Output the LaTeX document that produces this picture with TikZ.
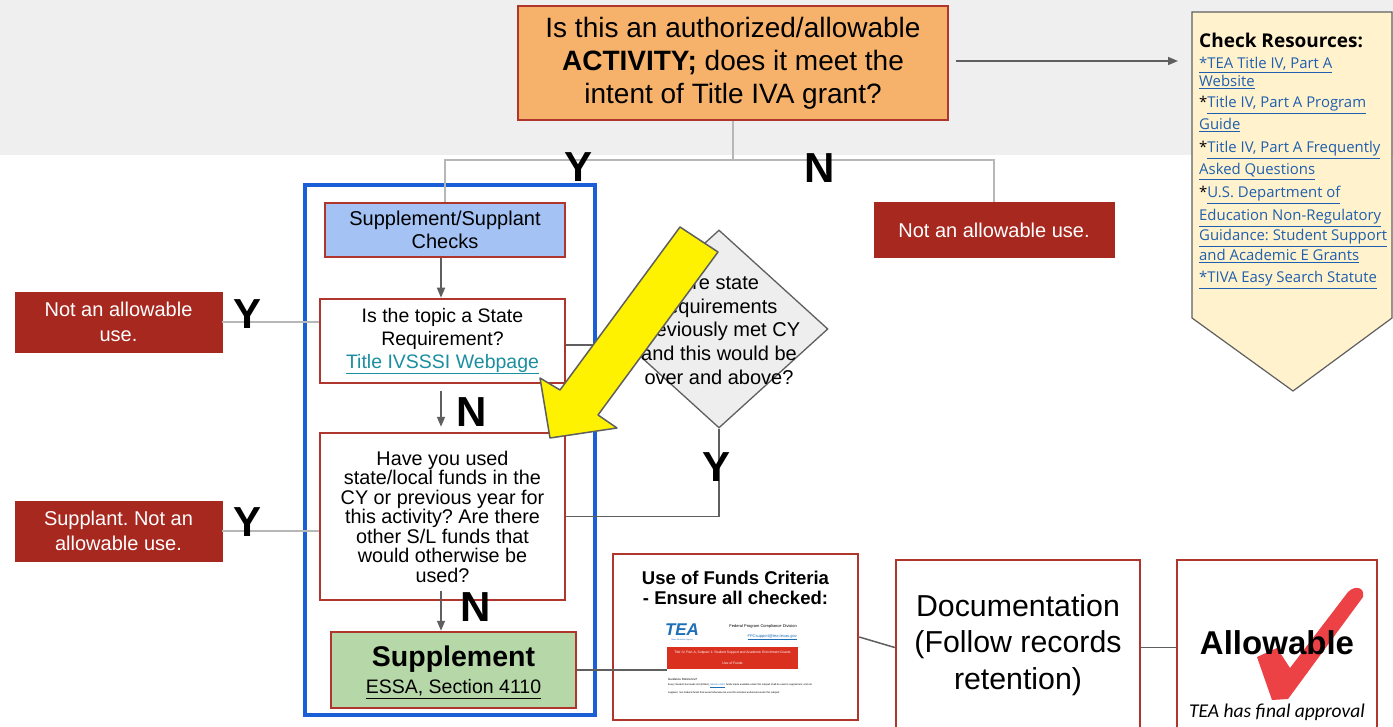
\documentclass[tikz,border=0pt]{standalone}
\usepackage{fontspec}
\setmainfont{Liberation Sans}
\newfontfamily\osans{Open Sans}
\newfontfamily\lsans{Liberation Sans}
\newfontfamily\carlito{Carlito}
\usetikzlibrary{arrows.meta,shapes.geometric}
\frenchspacing
\definecolor{bandgray}{HTML}{EFEFEF}
\definecolor{boxred}{HTML}{A6281F}
\definecolor{borderred}{HTML}{B0352C}
\definecolor{orangefill}{HTML}{F6B26B}
\definecolor{bluefill}{HTML}{A4C2F4}
\definecolor{greenfill}{HTML}{B6D7A8}
\definecolor{frameblue}{HTML}{1A5FD6}
\definecolor{linkblue}{HTML}{1F5FAF}
\definecolor{linkteal}{HTML}{1B8FA0}
\definecolor{bannerfill}{HTML}{FFF2CC}
\definecolor{lightline}{HTML}{B7B7B7}
\definecolor{darkline}{HTML}{5F5F5F}
\definecolor{checkred}{HTML}{EC4245}
\definecolor{diafill}{HTML}{EEEEEE}
\definecolor{tealogo}{HTML}{1E6FB8}
\definecolor{barred}{HTML}{D9301F}
\newcommand\lnk[1]{\textcolor{linkblue}{\underline{#1}}}
\tikzset{
  redbox/.style={draw=boxred, fill=boxred, text=white, align=center, inner sep=0,
    font=\fontsize{20}{25}\selectfont},
  wbox/.style={draw=borderred, line width=2.5, fill=white, align=center, inner sep=0},
  light/.style={draw=lightline, line width=2.5},
  darkarr/.style={draw=darkline, line width=1.5, -{Triangle[length=10,width=8]}},
  yn/.style={font=\fontsize{42}{42}\selectfont\bfseries, inner sep=0},
  restext/.style={anchor=base west, inner sep=0, font=\osans\fontsize{14.9}{17}\selectfont},
  tiny/.style={inner sep=0, font=\fontsize{4}{5}\selectfont},
}
\begin{document}
\frenchspacing
\begin{tikzpicture}[x=1pt,y=-1pt]
\useasboundingbox (0,0) rectangle (1393,727);
\fill[white] (0,0) rectangle (1393,727);
\fill[bandgray] (0,0) rectangle (1393,155);

% top question
\node[wbox, fill=orangefill, minimum width=430, minimum height=114,
  font=\fontsize{28}{33}\selectfont] (top) at (733,63)
  {Is this an authorized/allowable\\\textbf{ACTIVITY;} does it meet the\\intent of Title IVA grant?};

% resources banner
\draw[draw=darkline, line width=1.2, fill=bannerfill]
  (1192,12) -- (1392,12) -- (1392,318) -- (1293,391) -- (1192,318) -- cycle;
\coordinate (bannerin) at (1178,61);
\node[restext, font=\osans\bfseries\fontsize{19}{20}\selectfont] (r0) at (1199,48) {Check Resources:};
\node[restext] (r1) at (1199,69) {\lnk{*TEA Title IV, Part A}};
\node[restext] (r2) at (1199,87) {\lnk{Website}};
\node[restext] (r3) at (1199,108) {*\lnk{Title IV, Part A Program}};
\node[restext] (r4) at (1199,130) {\lnk{Guide}};
\node[restext] (r5) at (1199,153) {*\lnk{Title IV, Part A Frequently}};
\node[restext] (r6) at (1199,175) {\lnk{Asked Questions}};
\node[restext] (r7) at (1199,198) {*\lnk{U.S. Department of}};
\node[restext] (r8) at (1199,221) {\lnk{Education Non-Regulatory}};
\node[restext] (r9) at (1199,241) {\lnk{Guidance: Student Support}};
\node[restext] (r10) at (1199,261) {\lnk{and Academic E Grants}};
\node[restext] (r11) at (1199,283) {\lnk{*TIVA Easy Search Statute}};
\draw[darkarr] (top.east) ++(7,-2) coordinate (topout) (topout) -- (bannerin);

% right not allowable
\node[redbox, minimum width=240, minimum height=55] (na1) at (994,230) {Not an allowable use.};

% blue frame
\node[draw=frameblue, line width=4, minimum width=290, minimum height=530, inner sep=0] (frame) at (450,450) {};

% boxes in frame
\node[wbox, fill=bluefill, minimum width=240, minimum height=54,
  font=\fontsize{20}{23}\selectfont] (ss) at (445,230) {Supplement/Supplant\\Checks};
\node[wbox, minimum width=245, minimum height=84,
  font=\fontsize{19.5}{23}\selectfont] (sr) at (442.5,341)
  {Is the topic a State\\Requirement?\\\textcolor{linkteal}{\underline{Title IVSSSI Webpage}}};
\node[wbox, minimum width=245, minimum height=167,
  font=\fontsize{19.8}{19.5}\selectfont] (hy) at (442.5,516.5)
  {Have you used\\state/local funds in the\\CY or previous year for\\this activity? Are there\\other S/L funds that\\would otherwise be\\used?};
\node[wbox, fill=greenfill, minimum width=245, minimum height=76] (sup) at (453.5,670) {};
\node[inner sep=0, font=\fontsize{28.5}{30}\selectfont\bfseries] (suptitle) at (453.5,659) {Supplement};
\node[inner sep=0, font=\fontsize{19.5}{25}\selectfont] (supref) at (453.5,689) {\underline{ESSA, Section 4110}};

% left red boxes
\node[redbox, minimum width=207, minimum height=60] (na2) at (118.5,322) {Not an allowable\\use.};
\node[redbox, minimum width=207, minimum height=60] (na3) at (118.5,531) {Supplant. Not an\\allowable use.};

% diamond
\node[diamond, draw=darkline, line width=1.3, fill=diafill, minimum width=218, minimum height=198, inner sep=0] (dia) at (719,329) {};
\node[inner sep=0, align=center, font=\fontsize{20}{23.75}\selectfont] (diatext) at (719,330)
  {Are state\\requirements\\previously met CY\\and this would be\\over and above?};

% connectors
\coordinate (junc) at (733,160);
\draw[light] (top.south) -- (junc) -| (ss.north);
\draw[light] (junc) -| (na1.north);
\draw[darkarr] (ss.south -| 441,0) -- (sr.north -| 441,0);
\draw[darkarr, shorten <=7, shorten >=5] (sr.south -| 441,0) -- (hy.north -| 441,0);
\draw[darkarr, shorten <=-10] (hy.south -| 441,0) -- (sup.north -| 441,0);
\draw[light] (na2.east) -- (na2.east -| sr.west);
\draw[light] (na3.east) -- (na3.east -| hy.west);
\draw[draw=darkline, line width=1.5] (sr.east |- 0,345) -- (dia.west |- 0,345);
\draw[draw=darkline, line width=1.5] (dia.south) |- (hy.east);

% Y / N labels
\node[yn] (y1) at (579,167) {Y};
\node[yn] (n1) at (820,168) {N};
\node[yn] (y2) at (248,314) {Y};
\node[yn] (n2) at (472,412) {N};
\node[yn] (y3) at (716,467) {Y};
\node[yn] (y4) at (248,522) {Y};
\node[yn] (n3) at (476,607) {N};

% use of funds box
\node[wbox, minimum width=245, minimum height=166] (uof) at (735.5,637) {};
\node[inner sep=0, align=center, font=\fontsize{18.5}{20}\selectfont\bfseries] (uoftitle) at (735.5,588)
  {Use of Funds Criteria\\- Ensure all checked:};
\node[minimum width=131, minimum height=95, inner sep=0] (img) at (732.5,665) {};
\node[inner sep=0, font=\fontsize{17}{17}\selectfont\bfseries\itshape, text=tealogo] (tea) at (682,630) {TEA};
\node[inner sep=0, font=\fontsize{2}{2}\selectfont, text=tealogo] (teasub) at (682,640) {Texas Education Agency};
\node[tiny, anchor=east] (fpc) at (797,626) {Federal Program Compliance Division};
\node[tiny, anchor=east, text=tealogo] (fpcmail) at (797,637) {\underline{FPCsupport@tea.texas.gov}};
\fill[barred] (667,647) rectangle (798,669);
\node[tiny, text=white, font=\fontsize{3.4}{4}\selectfont] (bar1) at (732.5,653) {Title IV, Part A, Subpart 1: Student Support and Academic Enrichment Grants};
\node[tiny, text=white, font=\fontsize{3.4}{4}\selectfont] (bar2) at (732.5,663) {Use of Funds};
\node[tiny, anchor=west, font=\fontsize{3}{4}\selectfont] (g1) at (668,679) {Guidance Reference?};
\node[tiny, anchor=west, font=\fontsize{2.5}{3}\selectfont] (g2) at (668,686) {Every Student Succeeds Act (ESSA), \textcolor{tealogo}{\underline{Section 4110}}, funds made available under this subpart shall be used to supplement, and not};
\node[tiny, anchor=west, font=\fontsize{2.5}{3}\selectfont] (g3) at (668,693) {supplant, non-Federal funds that would otherwise be used for activities authorized under this subpart.};
\draw[draw=darkline, line width=1.5] (sup.east) -- (sup.east -| img.west);

% documentation and allowable
\node[wbox, minimum width=244, minimum height=175] (doc) at (1018,647.5) {};
\node[inner sep=0, align=center, font=\fontsize{30.3}{36.5}\selectfont] (doctext) at (1018,645)
  {Documentation\\(Follow records\\retention)};
\node[wbox, minimum width=200, minimum height=175] (allow) at (1277,647.5) {};
\fill[checkred] (1257,657) -- (1277,648) -- (1290,668) -- (1348,592) .. controls (1355,585) and (1365,587) .. (1363,597)
  -- (1288,699) -- (1272,700) -- cycle;
\node[inner sep=0, font=\lsans\bfseries\fontsize{33}{36}\selectfont] (allowtext) at (1277,643) {Allowable};
\node[inner sep=0, font=\carlito\itshape\fontsize{19.5}{20}\selectfont] (approval) at (1277,712) {TEA has final approval};
\draw[draw=darkline, line width=1.5] (uof.east) -- (doc.west);
\draw[draw=darkline, line width=1.5] (doc.east) -- (allow.west);

% yellow arrow
\draw[draw=darkline, line width=1.5, fill=yellow, line join=round]
  (680,227) -- (718,252) -- (598,415) -- (617,428) -- (550,438) -- (540,378) -- (560,390) -- cycle;
\end{tikzpicture}
\end{document}
